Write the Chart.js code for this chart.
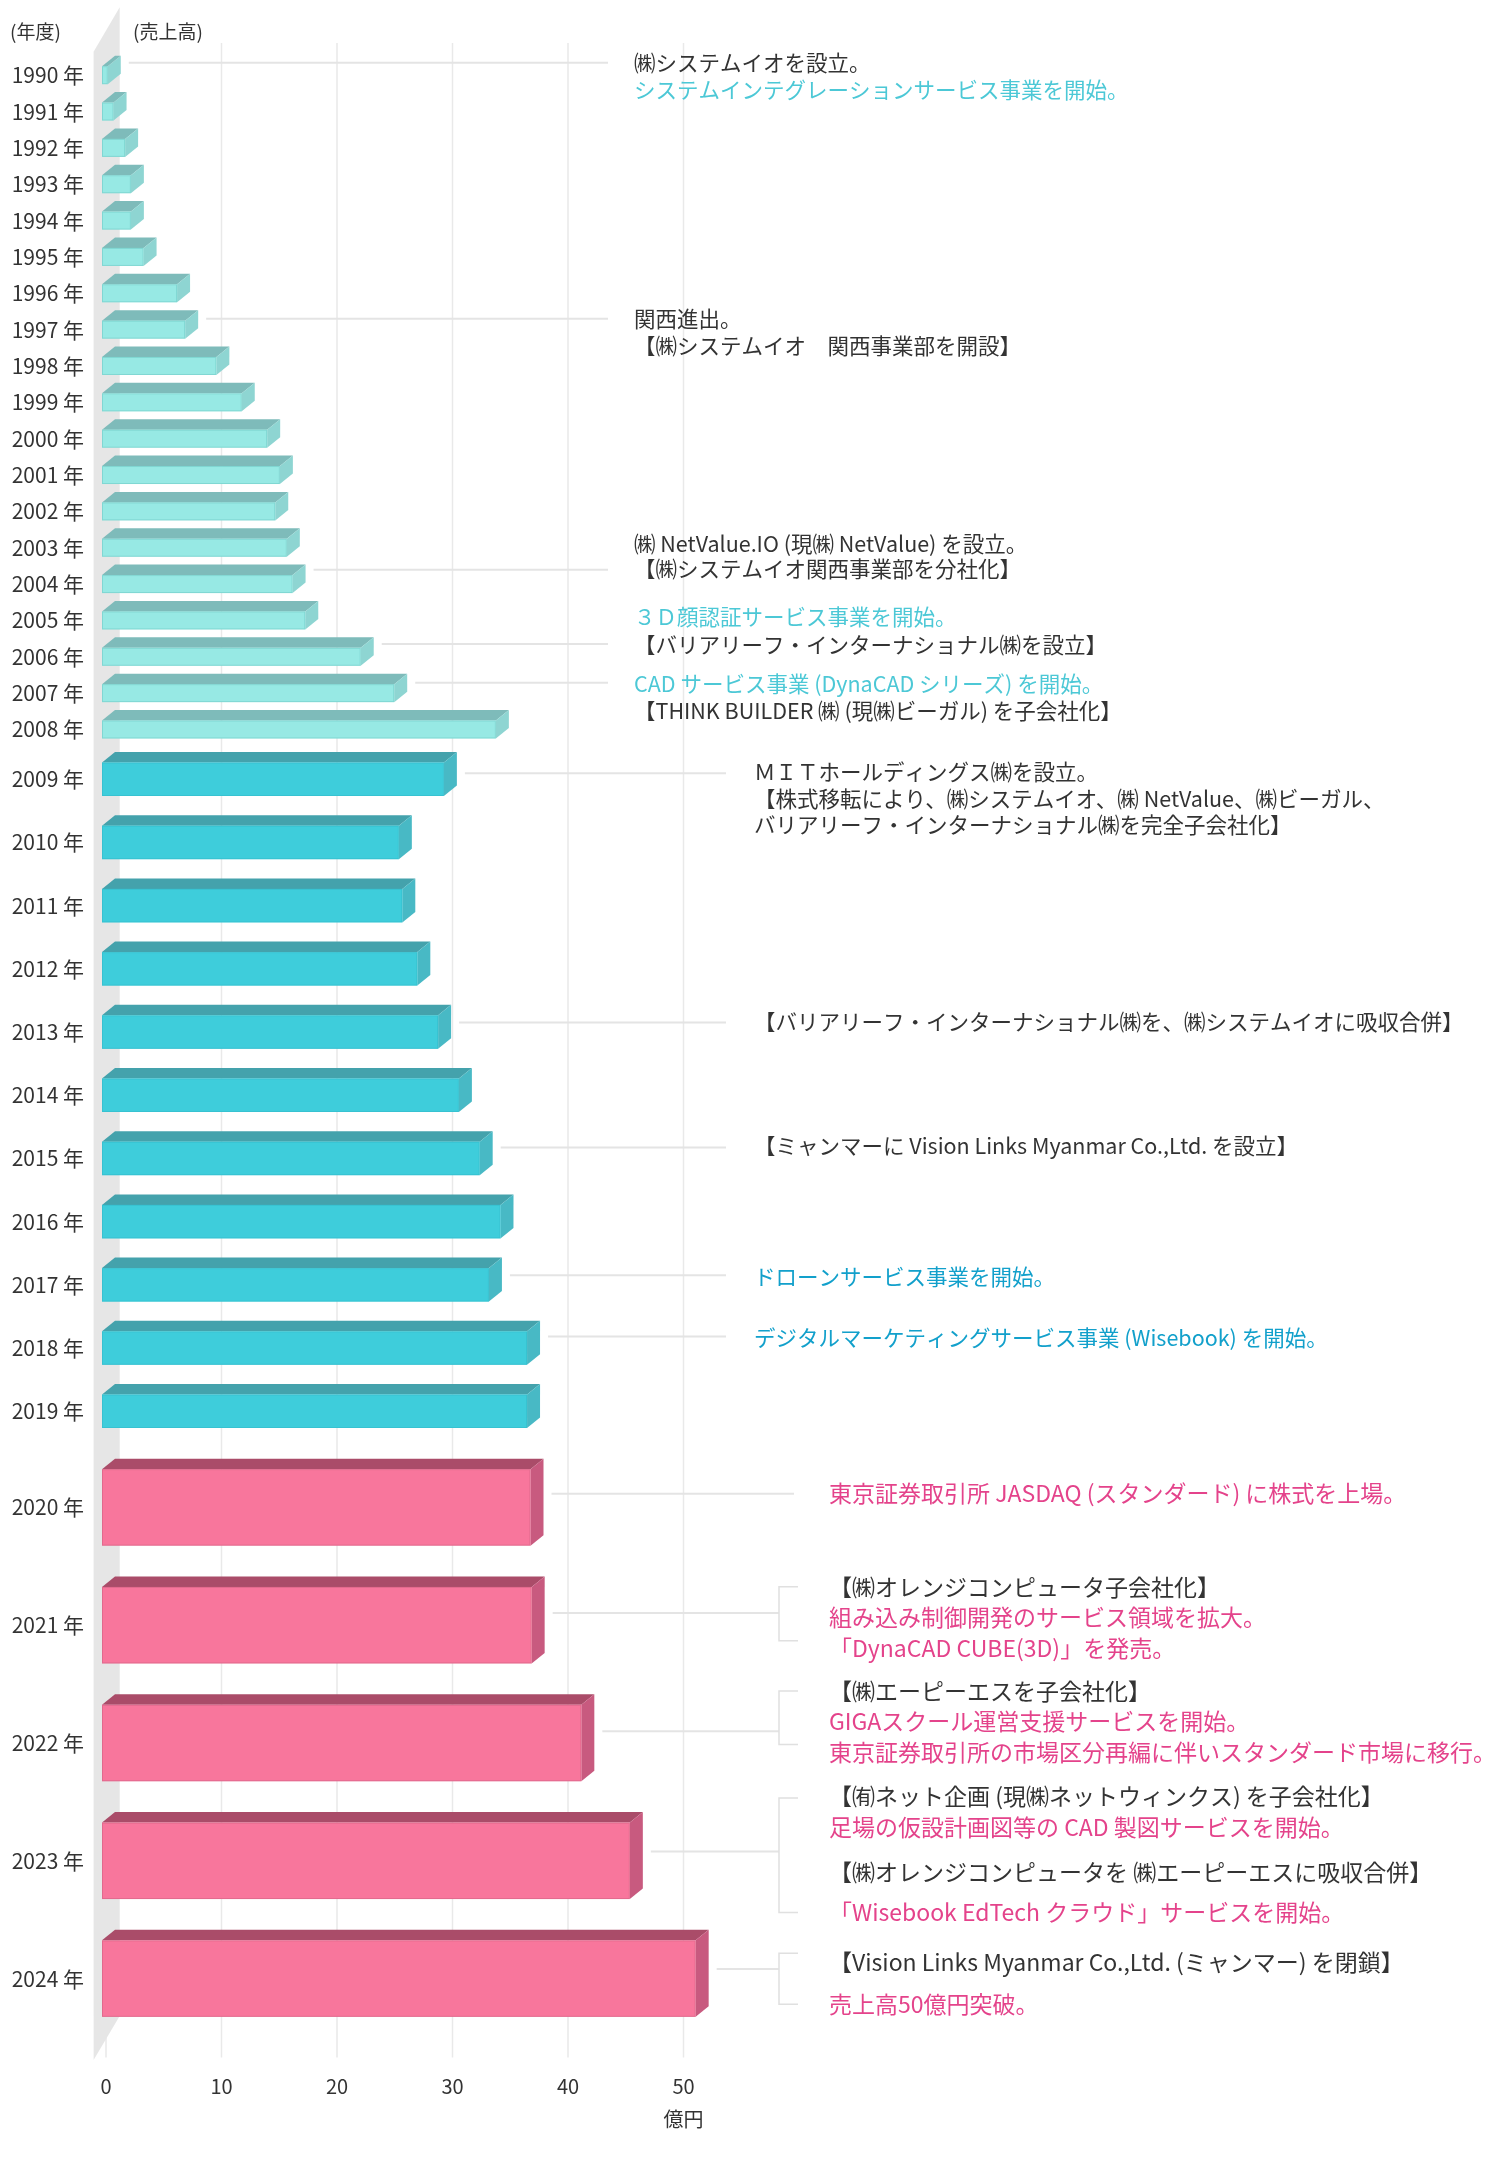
<!DOCTYPE html>
<html lang="ja">
<head>
<meta charset="utf-8">
<title>売上高推移</title>
<script src="https://cdn.jsdelivr.net/npm/chart.js@4.4.1/dist/chart.umd.min.js"></script>
<style>
html,body{margin:0;padding:0;background:#ffffff;}
canvas{display:block;}
</style>
</head>
<body>
<canvas id="chart" width="1500" height="2162"></canvas>
<script>
// ================= DATA =================
const years1 = ['1990 年','1991 年','1992 年','1993 年','1994 年','1995 年','1996 年','1997 年','1998 年','1999 年',
                '2000 年','2001 年','2002 年','2003 年','2004 年','2005 年','2006 年','2007 年','2008 年'];
const sales1 = [0.5, 1.0, 2.0, 2.5, 2.5, 3.6, 6.5, 7.2, 9.9, 12.1,
                14.3, 15.4, 15.0, 16.0, 16.5, 17.6, 22.4, 25.3, 34.1];

const years2 = ['2009 年','2010 年','2011 年','2012 年','2013 年','2014 年','2015 年','2016 年','2017 年','2018 年','2019 年'];
const sales2 = [29.6, 25.7, 26.0, 27.3, 29.1, 30.9, 32.7, 34.5, 33.5, 36.8, 36.8];

const years3 = ['2020 年','2021 年','2022 年','2023 年','2024 年'];
const sales3 = [37.1, 37.2, 41.5, 45.7, 51.4];

const xTickValues = [0, 10, 20, 30, 40, 50];
const unitLabel = '億円';
const yearHeader = '(年度)';
const salesHeader = '(売上高)';

// annotations (text content only)
const notes = [
  {axis:'y1', year:'1990 年', lines:[['㈱システムイオを設立。','dark'],['システムインテグレーションサービス事業を開始。','cyan']]},
  {axis:'y1', year:'1997 年', lines:[['関西進出。','dark'],['【㈱システムイオ　関西事業部を開設】','dark']]},
  {axis:'y1', year:'2004 年', lines:[['㈱ NetValue.IO (現㈱ NetValue) を設立。','dark'],['【㈱システムイオ関西事業部を分社化】','dark']]},
  {axis:'y1', year:'2006 年', lines:[['３Ｄ顔認証サービス事業を開始。','cyan'],['【バリアリーフ・インターナショナル㈱を設立】','dark']]},
  {axis:'y1', year:'2007 年', lines:[['CAD サービス事業 (DynaCAD シリーズ) を開始。','cyan'],['【THINK BUILDER ㈱ (現㈱ビーガル) を子会社化】','dark']]},
  {axis:'y2', year:'2009 年', lines:[['ＭＩＴホールディングス㈱を設立。','dark'],['【株式移転により、㈱システムイオ、㈱ NetValue、㈱ビーガル、','dark'],['バリアリーフ・インターナショナル㈱を完全子会社化】','dark']]},
  {axis:'y2', year:'2013 年', lines:[['【バリアリーフ・インターナショナル㈱を、㈱システムイオに吸収合併】','dark']]},
  {axis:'y2', year:'2015 年', lines:[['【ミャンマーに Vision Links Myanmar Co.,Ltd. を設立】','dark']]},
  {axis:'y2', year:'2017 年', lines:[['ドローンサービス事業を開始。','blue']]},
  {axis:'y2', year:'2018 年', lines:[['デジタルマーケティングサービス事業 (Wisebook) を開始。','blue']]},
  {axis:'y3', year:'2020 年', lines:[['東京証券取引所 JASDAQ (スタンダード) に株式を上場。','pink']]},
  {axis:'y3', year:'2021 年', lines:[['【㈱オレンジコンピュータ子会社化】','dark'],['組み込み制御開発のサービス領域を拡大。','pink'],['「DynaCAD CUBE(3D)」を発売。','pink']]},
  {axis:'y3', year:'2022 年', lines:[['【㈱エーピーエスを子会社化】','dark'],['GIGAスクール運営支援サービスを開始。','pink'],['東京証券取引所の市場区分再編に伴いスタンダード市場に移行。','pink']]},
  {axis:'y3', year:'2023 年', lines:[['【㈲ネット企画 (現㈱ネットウィンクス) を子会社化】','dark'],['足場の仮設計画図等の CAD 製図サービスを開始。','pink'],['【㈱オレンジコンピュータを ㈱エーピーエスに吸収合併】','dark'],['「Wisebook EdTech クラウド」サービスを開始。','pink']]},
  {axis:'y3', year:'2024 年', lines:[['【Vision Links Myanmar Co.,Ltd. (ミャンマー) を閉鎖】','dark'],['売上高50億円突破。','pink']]}
];

// ================= LAYOUT / STYLE =================
const FONT = '"Noto Sans CJK JP", "Noto Sans", sans-serif';
const tones = {dark:'#333333', cyan:'#4cc8d6', blue:'#12a0cb', pink:'#e4438b'};
const rowPitch = {y1:36.35, y2:63.2, y3:117.8};
const sectionGap = 5.65;
const FX = -4, DX = 13, DY = -10.5;   // 3D offsets of the boxes

const sectionLayout = {
  y1:{textX:634, connEnd:608, size:21.5},
  y2:{textX:754, connEnd:726, size:21.5},
  y3:{textX:829, connEnd:794, bracketX:779, tickEnd:798, size:23}
};
const noteLayout = {
  '1990 年':{conn:-12.5, lines:[-12.4, 15.1]},
  '1997 年':{conn:-11, lines:[-11, 16.6]},
  '2004 年':{conn:-14.3, lines:[-39.8, -15.5]},
  '2006 年':{conn:-12.9, lines:[-39.9, -12.3]},
  '2007 年':{conn:-10.3, lines:[-9.5, 17.9]},
  '2009 年':{conn:-6, lines:[-7, 19.3, 45.4]},
  '2013 年':{conn:-9.5, lines:[-10.5]},
  '2015 年':{conn:-11, lines:[-13]},
  '2017 年':{conn:-9.5, lines:[-8]},
  '2018 年':{conn:-11.5, lines:[-10]},
  '2020 年':{conn:-13.7, lines:[-13.7]},
  '2021 年':{conn:-12.2, lines:[-38.4, -7.6, 22.7], bracket:[-38.4, 15.5]},
  '2022 年':{conn:-11.8, lines:[-51.9, -21.6, 9.2], bracket:[-51.9, 1.6]},
  '2023 年':{conn:-9.4, lines:[-64.3, -33.1, 11.5, 51.7], bracket:[-62.9, 51.7]},
  '2024 年':{conn:-9.6, lines:[-16.3, 25.7], bracket:[-25.3, 25.7]}
};

Chart.defaults.font.family = FONT;
Chart.defaults.color = '#333333';

function poly(ctx, pts, fill) {
  ctx.beginPath();
  ctx.moveTo(pts[0][0], pts[0][1]);
  for (let i = 1; i < pts.length; i++) ctx.lineTo(pts[i][0], pts[i][1]);
  ctx.closePath();
  ctx.fillStyle = fill;
  ctx.fill();
}
function barFor(chart, axisId, year) {
  const dsIndex = chart.data.datasets.findIndex(d => d.yAxisID === axisId);
  const idx = chart.scales[axisId].getLabels().indexOf(year);
  const el = chart.getDatasetMeta(dsIndex).data[idx];
  return el.getProps(['x', 'y', 'base', 'height'], true);
}

const decor = {
  id: 'decor',
  beforeDatasetsDraw(chart) {
    const {ctx, chartArea} = chart;
    const xs = chart.scales.x;
    ctx.save();
    // vertical grid lines
    ctx.strokeStyle = '#e9e9e9';
    ctx.lineWidth = 1.5;
    xs.ticks.forEach(t => {
      const px = xs.getPixelForValue(t.value);
      ctx.beginPath();
      ctx.moveTo(px, chartArea.top - 14);
      ctx.lineTo(px, chartArea.bottom + 20);
      ctx.stroke();
    });
    // side wall
    const x0 = xs.getPixelForValue(0);
    poly(ctx, [[x0 - 12.4, chartArea.top - 5.3], [x0 + 13.7, chartArea.top - 49.7],
               [x0 + 13.7, chartArea.bottom - 21.5], [x0 - 12.4, chartArea.bottom + 22.6]], '#e6e6e6');
    // connectors and brackets
    notes.forEach(n => {
      const b = barFor(chart, n.axis, n.year);
      const L = noteLayout[n.year];
      const S = sectionLayout[n.axis];
      const cy = b.y + L.conn;
      const endX = L.bracket ? S.bracketX : S.connEnd;
      ctx.strokeStyle = '#e4e4e4';
      ctx.lineWidth = 2;
      ctx.beginPath();
      ctx.moveTo(b.x + 17, cy);
      ctx.lineTo(endX, cy);
      ctx.stroke();
      if (L.bracket) {
        ctx.strokeStyle = '#e0e0e0';
        ctx.lineWidth = 1.5;
        ctx.beginPath();
        ctx.moveTo(S.tickEnd, b.y + L.bracket[0]);
        ctx.lineTo(S.bracketX, b.y + L.bracket[0]);
        ctx.lineTo(S.bracketX, b.y + L.bracket[1]);
        ctx.lineTo(S.tickEnd, b.y + L.bracket[1]);
        ctx.stroke();
      }
    });
    ctx.restore();
  },
  beforeDatasetDraw(chart, args) {
    const ctx = chart.ctx;
    const ds = chart.data.datasets[args.index];
    ctx.save();
    args.meta.data.forEach(el => {
      const {x, y, base, height} = el.getProps(['x', 'y', 'base', 'height'], true);
      const L = base + FX, R = x + FX, T = y - height / 2, B = y + height / 2;
      poly(ctx, [[L, T], [R, T], [R + DX, T + DY], [L + DX, T + DY]], ds.topColor);
      poly(ctx, [[R, T], [R + DX, T + DY], [R + DX, B + DY], [R, B]], ds.sideColor);
      ctx.fillStyle = ds.backgroundColor;
      ctx.fillRect(L, T, R - L, B - T);
      ctx.strokeStyle = ds.borderColor;
      ctx.lineWidth = 1;
      ctx.strokeRect(L + 0.5, T + 0.5, R - L - 1, B - T - 1);
    });
    ctx.restore();
    return false;
  },
  afterDraw(chart) {
    const {ctx, chartArea} = chart;
    const xs = chart.scales.x;
    ctx.save();
    ctx.textBaseline = 'middle';
    // headers
    ctx.font = '19px ' + FONT;
    ctx.fillStyle = '#333333';
    ctx.textAlign = 'left';
    ctx.fillText(yearHeader, 10, 32);
    ctx.fillText(salesHeader, 133, 32);
    // unit under last tick
    ctx.font = '20px ' + FONT;
    ctx.textAlign = 'center';
    ctx.fillText(unitLabel, xs.getPixelForValue(xTickValues[xTickValues.length - 1]), chartArea.bottom + 82.25);
    // annotations
    ctx.textAlign = 'left';
    notes.forEach(n => {
      const b = barFor(chart, n.axis, n.year);
      const L = noteLayout[n.year];
      const S = sectionLayout[n.axis];
      ctx.font = S.size + 'px ' + FONT;
      n.lines.forEach((ln, i) => {
        ctx.fillStyle = tones[ln[1]];
        ctx.fillText(ln[0], S.textX, b.y + L.lines[i]);
      });
    });
    ctx.restore();
  }
};

function yAxis(labels, key, weight) {
  return {
    type: 'category',
    labels: labels,
    position: 'left',
    stack: 'years',
    stackWeight: labels.length * rowPitch[key],
    weight: weight,
    offset: true,
    grid: {display: false, drawTicks: false},
    border: {display: false},
    ticks: {font: {size: 21, family: FONT}, color: '#333333', padding: 22, autoSkip: false},
    afterFit: s => { s.width = 106; }
  };
}

new Chart(document.getElementById('chart'), {
  type: 'bar',
  data: {
    datasets: [
      {label: '1990-2008', data: sales1, yAxisID: 'y1', barThickness: 18, grouped: false,
       backgroundColor: '#97e9e4', topColor: '#7ebbba', sideColor: '#8ed5d2', borderColor: 'rgba(110,200,196,0.55)'},
      {label: '2009-2019', data: sales2, yAxisID: 'y2', barThickness: 33.5, grouped: false,
       backgroundColor: '#3ecddb', topColor: '#44a2ac', sideColor: '#48b9c5', borderColor: 'rgba(50,185,200,0.55)'},
      {label: '2020-2024', data: sales3, yAxisID: 'y3', barThickness: 76.5, grouped: false,
       backgroundColor: '#f8769c', topColor: '#aa4c69', sideColor: '#c85a7f', borderColor: 'rgba(200,90,125,0.45)'}
    ]
  },
  options: {
    indexAxis: 'y',
    responsive: false,
    animation: false,
    devicePixelRatio: 1,
    layout: {padding: {top: 57, right: 816.5, bottom: 0, left: 0}},
    plugins: {legend: {display: false}, tooltip: {enabled: false}},
    scales: {
      x: {
        type: 'linear',
        position: 'bottom',
        min: 0,
        max: 50,
        afterBuildTicks: s => { s.ticks = xTickValues.map(v => ({value: v})); },
        grid: {display: false, drawTicks: false},
        border: {display: false},
        ticks: {font: {size: 20, family: FONT}, color: '#333333', padding: 37.25},
        afterFit: s => { s.height = 124.5; }
      },
      y1: yAxis(years1, 'y1', 4),
      y2: yAxis(years2, 'y2', 3),
      yGap: {
        type: 'category', axis: 'y', labels: [], position: 'left', stack: 'years',
        stackWeight: sectionGap, weight: 2, display: false,
        afterFit: s => { s.width = 106; }
      },
      y3: yAxis(years3, 'y3', 1)
    }
  },
  plugins: [decor]
});
</script>
</body>
</html>
